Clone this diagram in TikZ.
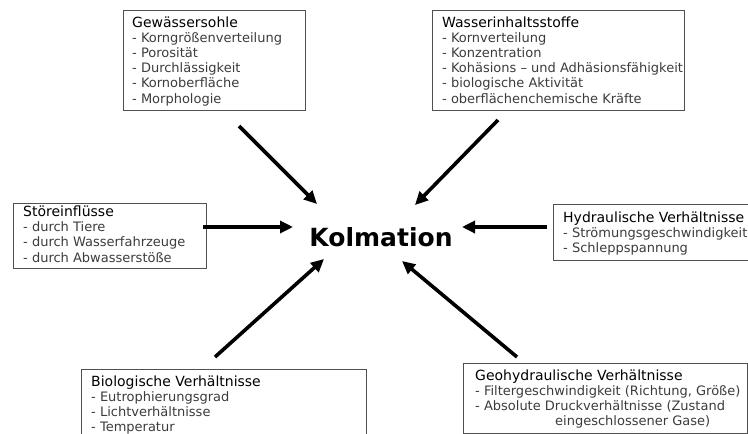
\documentclass[tikz,border=0pt]{standalone}
\usepackage{fontspec}
\setmainfont{DejaVu Sans}
\usetikzlibrary{arrows.meta}
\definecolor{bodygray}{HTML}{3C3C3C}
\definecolor{framegray}{HTML}{505050}
\tikzset{
  factorbox/.style={draw=framegray, line width=0.9pt, fill=white, anchor=north west, inner sep=0pt},
  factortext/.style={anchor=base west, inner sep=0pt, text=bodygray,
    font=\fontsize{13}{15.2}\selectfont},
  centerword/.style={anchor=base, inner sep=0pt, font=\fontsize{25}{30}\selectfont\bfseries},
  influence/.style={line width=3.6pt, -{Triangle[length=13pt,width=12pt]}},
}
% a stack of lines whose reference point is the baseline of the first line
\newcommand{\linestack}[1]{\vtop{\baselineskip=15.2pt\lineskiplimit=-20pt\lineskip=0pt #1}}
\newcommand{\boxtitle}[1]{\hbox{\color{black}\fontsize{14}{15.2}\selectfont #1}}
\newcommand{\entry}[1]{\hbox{#1}}
\begin{document}
\begin{tikzpicture}[x=1pt,y=-1pt]
  \useasboundingbox (0,0) rectangle (748,434);
  \clip (0,0) rectangle (748,434);

  % frames of the six groups of factors
  \node[factorbox, minimum width=182pt, minimum height=100pt] (b1) at (123,10) {};
  \node[factorbox, minimum width=252pt, minimum height=100pt] (b2) at (432,10) {};
  \node[factorbox, minimum width=193pt, minimum height=65pt]  (b3) at (13,203) {};
  \node[factorbox, minimum width=210pt, minimum height=56pt]  (b4) at (553,204) {};
  \node[factorbox, minimum width=285pt, minimum height=80pt]  (b5) at (81,369) {};
  \node[factorbox, minimum width=284pt, minimum height=70pt]  (b6) at (463,363) {};

  % their contents
  \node[factortext] (t1) at (132,27) {\linestack{\boxtitle{Gewässersohle}
    \entry{- Korngrößenverteilung}\entry{- Porosität}\entry{- Durchlässigkeit}
    \entry{- Kornoberfläche}\entry{- Morphologie}}};
  \node[factortext] (t2) at (442,27) {\linestack{\boxtitle{Wasserinhaltsstoffe}
    \entry{- Kornverteilung}\entry{- Konzentration}\entry{- Kohäsions – und Adhäsionsfähigkeit}
    \entry{- biologische Aktivität}\entry{- oberflächenchemische Kräfte}}};
  \node[factortext] (t3) at (23,216.5) {\linestack{\boxtitle{Störeinflüsse}
    \entry{- durch Tiere}\entry{- durch Wasserfahrzeuge}\entry{- durch Abwasserstöße}}};
  \node[factortext] (t4) at (563,222.5) {\linestack{\boxtitle{Hydraulische Verhältnisse}
    \entry{- Strömungsgeschwindigkeit}\entry{- Schleppspannung}}};
  \node[factortext] (t5) at (91,386) {\linestack{\boxtitle{Biologische Verhältnisse}
    \entry{- Eutrophierungsgrad}\entry{- Lichtverhältnisse}\entry{- Temperatur}}};
  \node[factortext] (t6) at (475,380) {\linestack{\boxtitle{Geohydraulische Verhältnisse}
    \entry{- Filtergeschwindigkeit (Richtung, Größe)}
    \entry{- Absolute Druckverhältnisse (Zustand}
    \entry{\hspace*{80pt}eingeschlossener Gase)}}};

  % central term
  \node[centerword] (k) at (381,246) {Kolmation};

  % arrow ends between the frames and the central term
  \coordinate (s1) at (239,126); \coordinate (e1) at (317,204);
  \coordinate (s2) at (498,120); \coordinate (e2) at (415,205);
  \coordinate (s3) at (203,227); \coordinate (e3) at (293,227);
  \coordinate (s4) at (547,227); \coordinate (e4) at (462,227);
  \coordinate (s5) at (215,357); \coordinate (e5) at (324,259);
  \coordinate (s6) at (517,357); \coordinate (e6) at (402,261);

  \draw[influence] (s1) -- (e1);
  \draw[influence] (s2) -- (e2);
  \draw[influence] (s3) -- (e3);
  \draw[influence] (s4) -- (e4);
  \draw[influence] (s5) -- (e5);
  \draw[influence] (s6) -- (e6);
\end{tikzpicture}
\end{document}
